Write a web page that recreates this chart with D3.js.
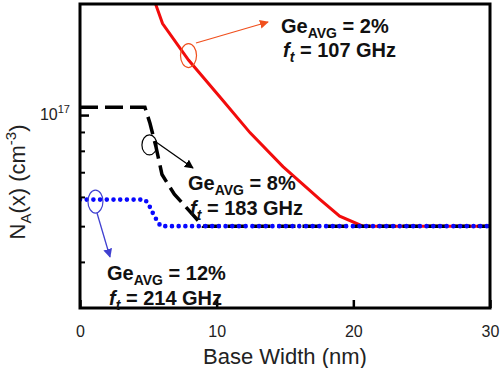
<html>
<head>
<script src="https://d3js.org/d3.v7.min.js"></script>
<style>
  body { margin: 0; background: #fff; }
  svg { display: block; font-family: Arial, "Liberation Sans", sans-serif; }
  .note { font-weight: bold; font-size: 20px; fill: #111; }
</style>
</head>
<body>
<div id="chart"></div>
<script type="text/javascript">

// base width (nm) -> acceptor doping NA (cm^-3)
const ge2 = [[5.53, 2.0e17], [6.04, 1.77e17], [7.94, 1.41e17], [10.41, 1.10e17], [12.45, 0.895e17],
  [14.85, 0.725e17], [17.55, 0.591e17], [19.0, 0.532e17], [20.7, 0.5e17], [30, 0.5e17]];
const ge8 = [[0, 1.05e17], [4.75, 1.05e17], [5.12, 0.95e17], [5.56, 0.82e17], [6.0, 0.69e17],
  [6.9, 0.61e17], [8.2, 0.54e17], [9.0, 0.5e17], [30, 0.5e17]];
const ge12 = [[0, 5.9e16], [4.75, 5.9e16], [5.0, 5.75e16], [5.3, 5.45e16], [5.6, 5.2e16],
  [5.9, 5.0e16], [30, 5.0e16]];

const xTicks = [0, 10, 20, 30];
const yMajor = [1e17];
const yMinor = [9e16, 8e16, 7e16, 6e16, 5e16, 4e16];

const labels2 = ["Ge", "AVG", " = 2%", "107 GHz"];
const labels8 = ["Ge", "AVG", " = 8%", "183 GHz"];
const labels12 = ["Ge", "AVG", " = 12%", "214 GHz"];

const svg = d3.select("#chart").append("svg").attr("width", 502).attr("height", 368);
const margin = { top: 4, right: 12, bottom: 60, left: 80 };
const width = 502 - margin.left - margin.right;
const height = 368 - margin.top - margin.bottom;

const x = d3.scaleLinear().domain([0, 30]).range([margin.left, margin.left + width]);
const y = d3.scaleLog().domain([3e16, 2e17]).range([margin.top + height, margin.top]);

svg.append("clipPath").attr("id", "clip")
  .append("rect").attr("x", margin.left).attr("y", margin.top).attr("width", width).attr("height", height);

const line = d3.line().x(d => x(d[0])).y(d => y(d[1]));

const plot = svg.append("g").attr("clip-path", "url(#clip)");
plot.append("path").datum(ge2).attr("d", line)
  .attr("fill", "none").attr("stroke", "#f20c0c").attr("stroke-width", 3);
plot.append("path").datum(ge8).attr("d", line)
  .attr("fill", "none").attr("stroke", "#000").attr("stroke-width", 3.5)
  .attr("stroke-dasharray", "18,7");
plot.append("path").datum(ge12).attr("d", line)
  .attr("fill", "none").attr("stroke", "#0808ff").attr("stroke-width", 4.6)
  .attr("stroke-linecap", "round").attr("stroke-dasharray", "0,6.7");

// axes: inward ticks
svg.append("g").attr("transform", `translate(0,${margin.top + height})`)
  .call(d3.axisBottom(x).tickValues(xTicks).tickSize(-8).tickPadding(18).tickFormat(d3.format("d")))
  .attr("font-family", null).attr("font-size", null)
  .call(g => g.select(".domain").remove())
  .call(g => g.selectAll("line").attr("stroke-width", 2.5))
  .call(g => g.selectAll("text").attr("font-size", 16).attr("fill", "#222"));

svg.append("g").attr("transform", `translate(${margin.left},0)`)
  .call(d3.axisLeft(y).tickValues(yMinor).tickSize(-5).tickFormat(""))
  .call(g => g.select(".domain").remove())
  .call(g => g.selectAll("line").attr("stroke-width", 2));

svg.append("g").attr("transform", `translate(${margin.left},0)`)
  .call(d3.axisLeft(y).tickValues(yMajor).tickSize(-9).tickFormat(""))
  .call(g => g.select(".domain").remove())
  .call(g => g.selectAll("line").attr("stroke-width", 2.5));

const yl = svg.append("text").attr("x", 70).attr("y", y(yMajor[0]) + 5)
  .attr("text-anchor", "end").attr("font-size", 16).attr("fill", "#222");
yl.append("tspan").text("10");
yl.append("tspan").attr("font-size", 11).attr("dy", -7).text("17");

svg.append("rect").attr("x", margin.left).attr("y", margin.top)
  .attr("width", width).attr("height", height)
  .attr("fill", "none").attr("stroke", "#000").attr("stroke-width", 3);

// axis titles
svg.append("text").attr("x", margin.left + width / 2).attr("y", 364)
  .attr("text-anchor", "middle").attr("font-size", 22).attr("fill", "#222")
  .text("Base Width (nm)");

const yt = svg.append("text").attr("transform", "translate(25,182) rotate(-90)")
  .attr("text-anchor", "middle").attr("font-size", 22).attr("fill", "#222");
yt.append("tspan").text("N");
yt.append("tspan").attr("font-size", 15).attr("dy", 6).text("A");
yt.append("tspan").attr("dy", -6).text("(x) (cm");
yt.append("tspan").attr("font-size", 15).attr("dy", -9).text("-3");
yt.append("tspan").attr("dy", 9).text(")");

// annotations
const defs = svg.append("defs");
function marker(id, color) {
  defs.append("marker").attr("id", id).attr("viewBox", "0 0 10 10")
    .attr("refX", 9).attr("refY", 5).attr("markerWidth", 9).attr("markerHeight", 9)
    .attr("markerUnits", "userSpaceOnUse").attr("orient", "auto")
    .append("path").attr("d", "M0,0L10,5L0,10z").attr("fill", color);
}
marker("arRed", "#f0501e");
marker("arBlack", "#000");
marker("arBlue", "#4040d0");

function callout(cx, cy, rx, ry, x1, y1, x2, y2, color, mk) {
  svg.append("ellipse").attr("cx", cx).attr("cy", cy).attr("rx", rx).attr("ry", ry)
    .attr("fill", "none").attr("stroke", color).attr("stroke-width", 1.2);
  svg.append("line").attr("x1", x1).attr("y1", y1).attr("x2", x2).attr("y2", y2)
    .attr("stroke", color).attr("stroke-width", 1.3).attr("marker-end", `url(#${mk})`);
}
callout(x(7.94), y(1.45e17), 8, 12, 196, 43, 268, 22, "#f0501e", "arRed");
callout(x(5.08), y(0.83e17), 7.5, 10, 156, 142, 193, 168, "#000", "arBlack");
callout(x(1.13), y(0.583e17), 7.5, 11.5, 97, 213, 110, 257, "#4040d0", "arBlue");

function note(lab, tx, ty, gap) {
  const t1 = svg.append("text").attr("class", "note").attr("x", tx).attr("y", ty);
  t1.append("tspan").text(lab[0]);
  t1.append("tspan").attr("font-size", 14).attr("dy", 5).text(lab[1]);
  t1.append("tspan").attr("dy", -5).text(lab[2]);
  const t2 = svg.append("text").attr("class", "note").attr("x", tx + 2).attr("y", ty + gap);
  t2.append("tspan").attr("font-style", "italic").text("f");
  t2.append("tspan").attr("font-style", "italic").attr("font-size", 14).attr("dy", 5).text("t");
  t2.append("tspan").attr("dy", -5).text(" = " + lab[3]);
}
note(labels2, 281, 33, 24);
note(labels8, 188, 190, 25);
note(labels12, 107, 280, 25);

</script>
</body>
</html>
